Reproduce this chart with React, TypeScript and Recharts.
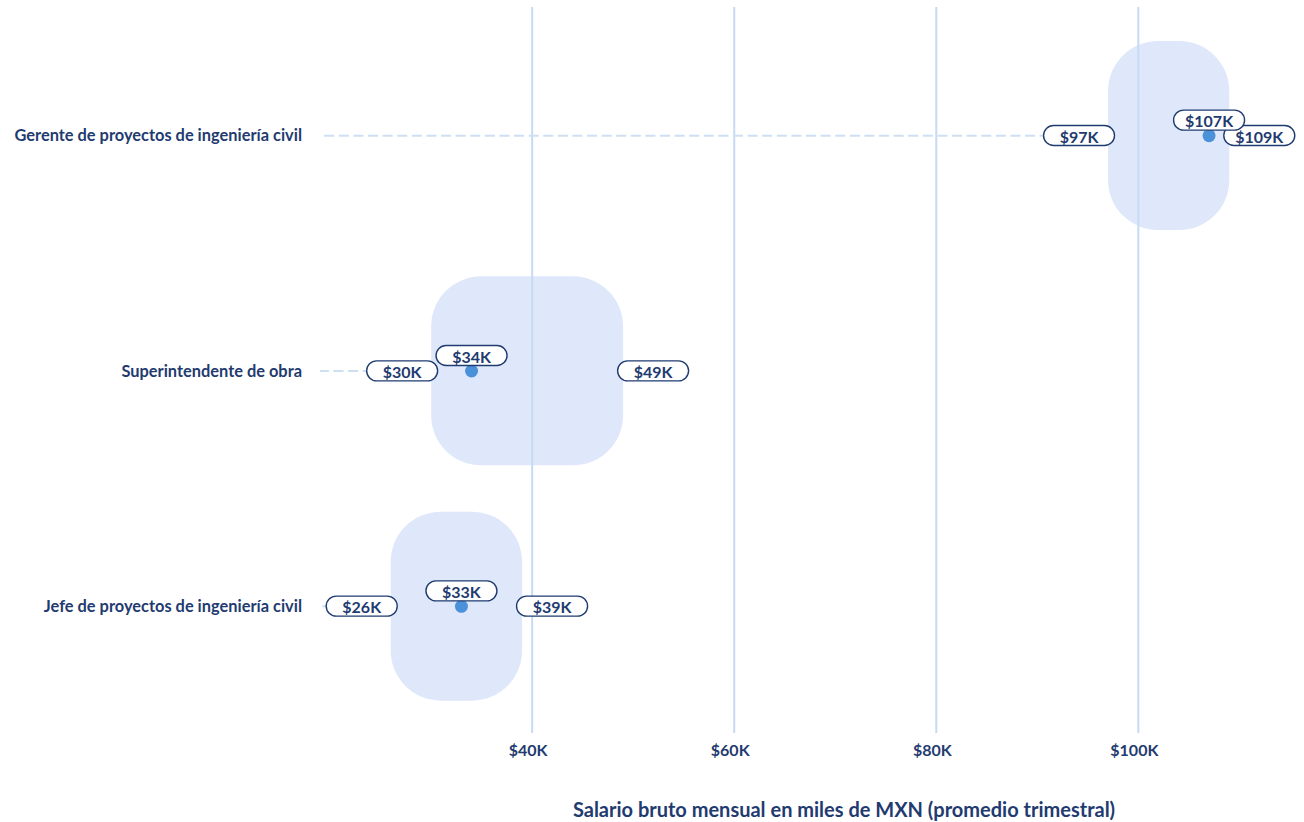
import React from 'react';
import { ComposedChart, Bar, Scatter, XAxis, YAxis, ReferenceLine, LabelList } from 'recharts';

const roles = [
  'Gerente de proyectos de ingeniería civil',
  'Superintendente de obra',
  'Jefe de proyectos de ingeniería civil',
];
const minSalary = [97, 30, 26];
const medianSalary = [107, 34, 33];
const maxSalary = [109, 49, 39];
const xTicks = [40, 60, 80, 100];
const xDomain = [19, 116];

const NAVY = '#1f3b70';
const FONT = 'Lato, "Noto Sans", sans-serif';

const data = roles.map((role, i) => ({
  role,
  range: [minSalary[i], maxSalary[i]],
  min: minSalary[i],
  median: medianSalary[i],
  max: maxSalary[i],
}));

const fmt = (v: number) => `$${v}K`;

const Pill = ({ cx, cy, text }: { cx: number; cy: number; text: string }) => (
  <g>
    <rect x={cx - 35.5} y={cy - 10} width={71} height={20} rx={10} ry={10} fill="#fff" stroke={NAVY} strokeWidth={1.4} />
    <text x={cx} y={cy + 0.5} textAnchor="middle" dominantBaseline="central" fill={NAVY} fontSize={16} fontWeight={700} fontFamily={FONT}>
      {text}
    </text>
  </g>
);

const minLabel = (props: any) => {
  const { x, y, height, value } = props;
  return <Pill cx={x - 29} cy={y + height / 2} text={fmt(value)} />;
};

const maxLabel = (props: any) => {
  const { x, y, width, height, value } = props;
  return <Pill cx={x + width + 30} cy={y + height / 2} text={fmt(value)} />;
};

const medianLabel = (props: any) => {
  const { x, y, width, height, value } = props;
  return <Pill cx={x + width / 2} cy={y + height / 2 - 15.5} text={fmt(value)} />;
};

const Dot = (props: any) => <circle cx={props.cx} cy={props.cy} r={6.5} fill="#4a91da" />;

const AxisTitle = (props: any) => {
  const { viewBox } = props;
  return (
    <text
      x={viewBox.x + viewBox.width / 2 + 34}
      y={817}
      textAnchor="middle"
      fill={NAVY}
      fontSize={20}
      fontWeight={700}
      fontFamily={FONT}
    >
      Salario bruto mensual en miles de MXN (promedio trimestral)
    </text>
  );
};

export default function App() {
  return (
    <div style={{ position: 'absolute', left: 0, top: 0, background: '#fff' }}>
      <ComposedChart
        width={1304}
        height={822}
        data={data}
        layout="vertical"
        margin={{ top: 7, right: 4, bottom: 0, left: 0 }}
        style={{ fontFamily: FONT }}
      >
        <XAxis
          type="number"
          domain={xDomain}
          ticks={xTicks}
          tickFormatter={fmt}
          axisLine={false}
          tickLine={false}
          tickSize={0}
          tickMargin={12}
          height={89}
          tick={{ fill: NAVY, fontSize: 16, fontWeight: 700, dx: -4 }}
          label={{ content: AxisTitle }}
        />
        <YAxis
          type="category"
          dataKey="role"
          width={320}
          axisLine={false}
          tickLine={false}
          tickSize={0}
          tickMargin={18}
          padding={{ top: 11, bottom: 9 }}
          tick={{ fill: NAVY, fontSize: 16.4, fontWeight: 700 }}
        />
        {xTicks.map((t) => (
          <ReferenceLine key={t} x={t} stroke="#c6dbf3" strokeWidth={2} />
        ))}
        {data.map((d) => (
          <ReferenceLine
            key={d.role}
            segment={[{ x: d.min, y: d.role }, { x: xDomain[0], y: d.role }]}
            stroke="#cddff3"
            strokeWidth={2}
            strokeDasharray="10 4.6"
          />
        ))}
        <Bar dataKey="range" barSize={189} fill="#dfe8fa" radius={50} isAnimationActive={false}>
          <LabelList dataKey="min" content={minLabel} />
          <LabelList dataKey="max" content={maxLabel} />
        </Bar>
        <Scatter dataKey="median" shape={Dot} isAnimationActive={false}>
          <LabelList dataKey="median" content={medianLabel} />
        </Scatter>
      </ComposedChart>
    </div>
  );
}
